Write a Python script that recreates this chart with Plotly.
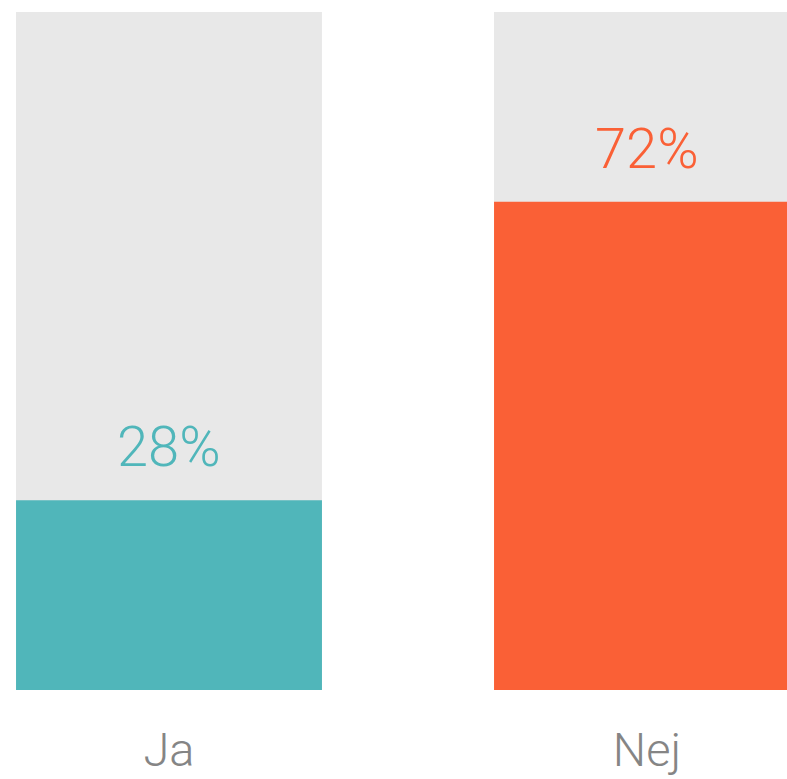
import plotly.graph_objects as go

# survey answers
categories = ["Ja", "Nej"]
shares = [28, 72]
full = [100, 100]
bar_colors = ["#50B6BA", "#FA6036"]
labels = ["28%", "72%"]

xpos = list(range(len(categories)))

fig = go.Figure()

# grey background bars (100%)
fig.add_trace(go.Bar(
    x=xpos, y=full, width=0.64,
    marker=dict(color="#E8E8E8", line=dict(width=0)),
    hoverinfo="skip", showlegend=False,
))

# actual shares
fig.add_trace(go.Bar(
    x=xpos, y=shares, width=0.64,
    marker=dict(color=bar_colors, line=dict(width=0)),
    showlegend=False,
))

for xp, val, lab, col in zip(xpos, shares, labels, bar_colors):
    fig.add_annotation(
        x=xp, y=val, text=lab, showarrow=False,
        yanchor="bottom", yshift=18,
        font=dict(size=56, color=col, family="Helvetica Neue, Roboto, Liberation Sans", weight=300),
    )

fig.update_layout(
    width=787, height=779,
    barmode="overlay",
    margin=dict(l=0, r=0, t=12, b=89),
    paper_bgcolor="white",
    plot_bgcolor="white",
    xaxis=dict(
        range=[-169 / 478, 618 / 478],
        tickvals=xpos, ticktext=categories,
        showgrid=False, zeroline=False, showline=False, ticks="",
        ticklabelstandoff=28,
        tickfont=dict(size=47, color="#858585", family="Helvetica Neue, Roboto, Liberation Sans", weight=300),
        fixedrange=True,
    ),
    yaxis=dict(
        range=[0, 100], visible=False, fixedrange=True,
    ),
)

# drop the browser's default page margin so the figure fills the window
fig.write_html(
    "out.html",
    config={"displayModeBar": False},
    post_script="document.body.style.margin='0';document.body.style.overflow='hidden';",
)
